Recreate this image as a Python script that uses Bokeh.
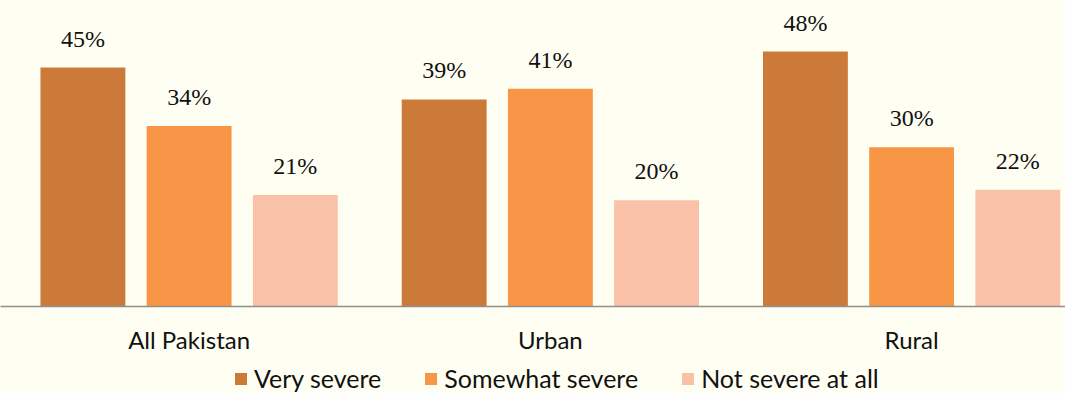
from bokeh.plotting import figure
from bokeh.layouts import column
from bokeh.models import ColumnDataSource, Range1d, FixedTicker, LabelSet, Legend, LegendItem
from bokeh.transform import dodge
from bokeh.embed import file_html
from bokeh.resources import INLINE

categories = ["All Pakistan", "Urban", "Rural"]
series = ["Very severe", "Somewhat severe", "Not severe at all"]
very_severe = [45, 39, 48]
somewhat_severe = [34, 41, 30]
not_severe = [21, 20, 22]
colors = ["#CB7A3A", "#F79646", "#F9C1A8"]

FONT = "Lato"
BG = "#FFFEF2"
W = 1065
H1, H2 = 358, 35
px_per_cat = 361.25
left_pad = 8
frame_h = 306
px_per_pct = 5.31

x_pos = [i + 0.5 for i in range(len(categories))]
data = dict(x=x_pos, cat=categories)
for name, vals in zip(["v", "s", "n"], [very_severe, somewhat_severe, not_severe]):
    data[name] = vals
    data[name + "_lbl"] = [f"{v}%" for v in vals]
src = ColumnDataSource(data)

p = figure(width=W, height=H1, output_backend="svg", toolbar_location=None,
           x_range=Range1d(-left_pad / px_per_cat, (W - left_pad) / px_per_cat),
           y_range=Range1d(0, frame_h / px_per_pct),
           y_axis_location=None, min_border_left=0, min_border_right=0,
           min_border_top=0, min_border_bottom=H1 - frame_h)
p.background_fill_color = BG
p.border_fill_color = BG
p.outline_line_color = None
p.xgrid.visible = False
p.ygrid.visible = False

offsets = [-0.294, 0.0, 0.294]
bar_w = 0.235
for key, off, col in zip(["v", "s", "n"], offsets, colors):
    p.vbar(x=dodge("x", off, range=p.x_range), top=key, width=bar_w, source=src,
           fill_color=col, line_color=None)
    lbl = LabelSet(x=dodge("x", off, range=p.x_range), y=key, text=key + "_lbl", source=src,
                   text_align="center", text_baseline="alphabetic", y_offset=21,
                   text_font=FONT, text_font_size="24px", text_color="#111111")
    p.add_layout(lbl)

ax = p.xaxis[0]
ax.ticker = FixedTicker(ticks=x_pos)
ax.major_label_overrides = {x: c for x, c in zip(x_pos, categories)}
ax.major_label_text_font = FONT
ax.major_label_text_font_size = "24px"
ax.major_label_text_color = "#111111"
ax.major_label_standoff = 12
ax.major_tick_line_color = None
ax.minor_tick_line_color = None
ax.axis_line_color = "#8F8F8F"
ax.axis_line_width = 1.5

# legend strip (its dummy renderers hold a single NaN row, so nothing is drawn in the frame)
q = figure(width=W, height=H2, output_backend="svg", toolbar_location=None,
           x_range=Range1d(0, 1), y_range=Range1d(0, 1),
           x_axis_location=None, y_axis_location=None,
           min_border_left=0, min_border_right=0, min_border_top=0, min_border_bottom=0)
q.background_fill_color = BG
q.border_fill_color = BG
q.outline_line_color = None
q.xgrid.visible = False
q.ygrid.visible = False
nan = float("nan")
items = []
for col, name in zip(colors, series):
    dummy = ColumnDataSource(dict(x=[nan], top=[nan]))
    r = q.vbar(x="x", top="top", width=0.1, source=dummy, fill_color=col, line_color=None)
    items.append(LegendItem(label=name, renderers=[r]))
legend = Legend(items=items, orientation="horizontal", location=(233, 0),
                glyph_width=15, glyph_height=15, label_standoff=6, spacing=42,
                label_text_font=FONT, label_text_font_size="25px", label_text_color="#111111",
                padding=2, margin=0, border_line_color=None, background_fill_alpha=0)
q.add_layout(legend, "center")

layout = column(p, q, spacing=0)
open("out.html", "w").write(file_html(layout, INLINE))
